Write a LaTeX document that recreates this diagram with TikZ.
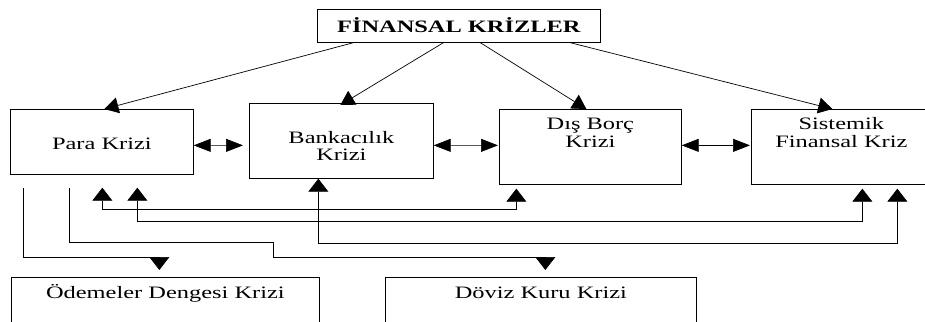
\documentclass[tikz,border=0pt]{standalone}
\usepackage{fontspec}
\setmainfont{Liberation Serif}
\usepackage{graphicx}
\usetikzlibrary{arrows.meta,calc}
% stretched text, as in the scan
\newcommand{\genis}[1]{\scalebox{1.4}[1]{\begin{tabular}[t]{@{}c@{}}#1\end{tabular}}}

\begin{document}
\begin{tikzpicture}[x=1bp, y=-1bp, line width=0.7bp,
  kutu/.style={draw, rectangle, inner sep=0pt, anchor=north west, font=\fontsize{17.5}{18}\selectfont},
  capraz/.style={->, >={Triangle[width=16bp,length=14bp]}},
  yatay/.style={<->, >={Triangle[width=13bp,length=17bp]}},
  dikey/.style={<->, >={Triangle[width=20bp,length=13bp]}},
  asagi/.style={->, >={Triangle[width=20bp,length=13bp]}}]
\clip (0,0) rectangle (925,321);
\node[kutu, font=\bfseries\fontsize{17.5}{18}\selectfont, minimum width=283bp, text height=22.7bp, text depth=10.3bp] (fin) at (317,9) {\genis{FİNANSAL KRİZLER}};
\node[kutu, minimum width=183bp, text height=39.7bp, text depth=25.3bp] (para) at (10,109) {\genis{Para Krizi}};
\node[kutu, minimum width=184bp, text height=39.7bp, text depth=35.3bp] (bank) at (249,103) {\genis{Bankacılık\\Krizi}};
\node[kutu, minimum width=182bp, text height=20bp, text depth=55bp] (dis) at (499,109) {\genis{Dış Borç\\Krizi}};
\node[kutu, minimum width=180bp, text height=20bp, text depth=55bp] (sis) at (751,109) {\genis{Sistemik\\Finansal Kriz}};
\node[kutu, minimum width=308bp, text height=21bp, text depth=47bp] (ode) at (11,277) {\genis{Ödemeler Dengesi Krizi}};
\node[kutu, minimum width=311bp, text height=21bp, text depth=47bp] (dov) at (385,277) {\genis{Döviz Kuru Krizi}};
% from the top box
\draw[capraz] ($(fin.south)+(-105.5,0)$) -- ($(para.north)+(2.5,0)$);
\draw[capraz] ($(fin.south)+(-15.5,0)$) -- ($(bank.north)+(-1,2)$);
\draw[capraz] ($(fin.south)+(21.5,0)$) -- ($(dis.north)+(-4,0)$);
\draw[capraz] ($(fin.south)+(111.5,0)$) -- ($(sis.north)+(-9,0)$);
% side by side
\draw[yatay] ($(para.east)+(0,3.5)$) -- ($(bank.west)+(-6,4.5)$);
\draw[yatay] ($(bank.east)+(0,4.5)$) -- ($(dis.west)+(-1,-1.5)$);
\draw[yatay] ($(dis.east)+(0,-1.5)$) -- ($(sis.west)+(-1,-1.5)$);
% below the boxes
\draw[dikey] ($(para.south)+(0.5,13)$) -- ++(0,22) -| ($(dis.south)+(-74,4)$);
\draw[dikey] ($(para.south)+(35.5,13)$) -- ++(0,34) -| ($(sis.south)+(21,4)$);
\draw[dikey] ($(bank.south)+(-23,0)$) -- ++(0,65) -| ($(sis.south)+(56,4)$);
\draw[asagi] ($(para.south)+(-78.5,13)$) -- ++(0,70) -| ($(ode.north)+(-6,-7)$);
\draw[asagi] ($(para.south)+(-32.5,13)$) -- ++(0,55) -- ++(204,0) -- ++(0,15) -| ($(dov.north)+(4.5,-7)$);
\end{tikzpicture}
\end{document}
